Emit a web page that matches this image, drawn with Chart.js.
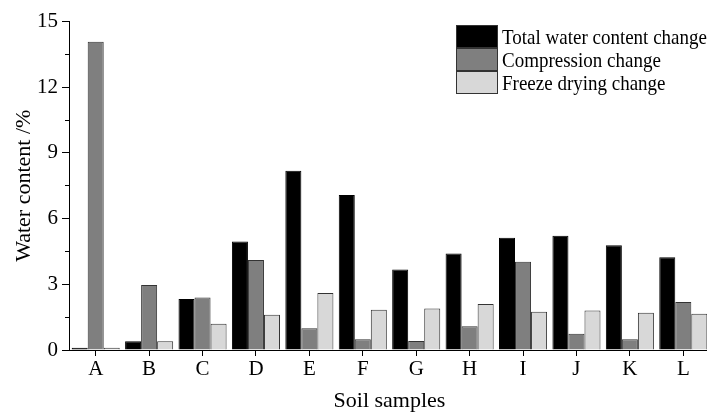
<!DOCTYPE html>
<html>
<head>
<meta charset="utf-8">
<script src="https://cdn.jsdelivr.net/npm/chart.js@4.4.1/dist/chart.umd.min.js"></script>
<style>
  body {
    margin: 0;
    width: 707px;
    height: 414px;
    overflow: hidden;
    background: #fff;
  }
  #wrap {
    position: relative;
    width: 712px;
    height: 414px;
  }
  #legend {
    position: absolute;
    left: 456px;
    top: 25px;
    font-family: "Liberation Serif", "Times New Roman", serif;
    font-size: 19px;
    color: #000;
    white-space: nowrap;
  }
  .legendRow {
    display: flex;
    align-items: center;
    height: 23px;
    line-height: 23px;
  }
  .legendBox {
    width: 42px;
    height: 23px;
    box-sizing: border-box;
    border: 1px solid #333;
    margin-right: 4px;
  }
  .legendText {
    display: inline-block;
    transform: scaleY(1.1);
  }
</style>
</head>
<body>
<div id="wrap">
  <canvas id="myChart" width="712" height="414"></canvas>
  <div id="legend"></div>
</div>
<script>
const samples = ["A", "B", "C", "D", "E", "F", "G", "H", "I", "J", "K", "L"];
const totalChange = [0.1, 0.4, 2.33, 4.96, 8.19, 7.08, 3.68, 4.41, 5.13, 5.22, 4.78, 4.23];
const compressionChange = [14.08, 2.97, 2.4, 4.11, 0.99, 0.49, 0.41, 1.08, 4.03, 0.74, 0.49, 2.19];
const freezeDryingChange = [0.1, 0.4, 1.2, 1.61, 2.6, 1.84, 1.9, 2.1, 1.75, 1.8, 1.7, 1.66];
const seriesNames = ["Total water content change", "Compression change", "Freeze drying change"];
const seriesColors = ["#000000", "#7f7f7f", "#d8d8d8"];
const yTicks = [0, 3, 6, 9, 12, 15];

const serif = "'Liberation Serif', 'Times New Roman', serif";

function makeDataset(i, values) {
  return {
    label: seriesNames[i],
    data: values,
    backgroundColor: seriesColors[i],
    borderColor: i == 0 ? "#000" : "#333",
    borderWidth: 1,
    categoryPercentage: 0.9,
    barPercentage: 1.0,
  };
}

function isMajor(value) {
  return yTicks.includes(value);
}

const chart = new Chart(document.getElementById("myChart"), {
  type: "bar",
  data: {
    labels: samples,
    datasets: [
      makeDataset(0, totalChange),
      makeDataset(1, compressionChange),
      makeDataset(2, freezeDryingChange),
    ],
  },
  options: {
    responsive: false,
    animation: false,
    devicePixelRatio: 1,
    layout: {
      padding: { left: 0, right: 2, top: 21.5, bottom: 0 },
    },
    scales: {
      x: {
        type: "category",
        offset: true,
        grid: {
          offset: false,
          drawOnChartArea: false,
          tickLength: 6,
          tickColor: "#000",
        },
        border: { color: "#000", width: 1 },
        ticks: {
          font: { family: serif, size: 21 },
          color: "#000",
          padding: 1,
          maxRotation: 0,
          autoSkip: false,
        },
        title: {
          display: true,
          text: "Soil samples",
          font: { family: serif, size: 22 },
          color: "#000",
          padding: { top: 0, bottom: 0 },
        },
        afterFit: (scale) => {
          scale.height = 64;
        },
      },
      y: {
        type: "linear",
        position: "left",
        min: 0,
        max: 15,
        grid: {
          drawOnChartArea: false,
          tickLength: 7,
          tickColor: "#000",
          // minor ticks: skip first 3px so only a 4px stub shows
          tickBorderDash: (ctx) => (ctx.tick && isMajor(ctx.tick.value) ? [] : [0, 3, 4, 20]),
        },
        border: { color: "#000", width: 1 },
        ticks: {
          stepSize: 1.5,
          autoSkip: false,
          font: { family: serif, size: 21 },
          color: "#000",
          padding: 4,
          callback: (value) => (isMajor(value) ? value : ""),
        },
        title: {
          display: true,
          text: "Water content /%",
          font: { family: serif, size: 22 },
          color: "#000",
          padding: { top: 11, bottom: 0 },
        },
        afterFit: (scale) => {
          scale.width = 69;
        },
      },
    },
    plugins: {
      legend: { display: false },
      tooltip: { enabled: false },
    },
  },
});

function renderLegend() {
  let legend = document.getElementById("legend");
  legend.innerHTML = "";
  chart.data.datasets.forEach((ds) => {
    legend.innerHTML += `
    <div class="legendRow">
      <div class="legendBox" style="background-color: ${ds.backgroundColor}"></div>
      <span class="legendText">${ds.label}</span>
    </div>`;
  });
}

renderLegend();
</script>
</body>
</html>
